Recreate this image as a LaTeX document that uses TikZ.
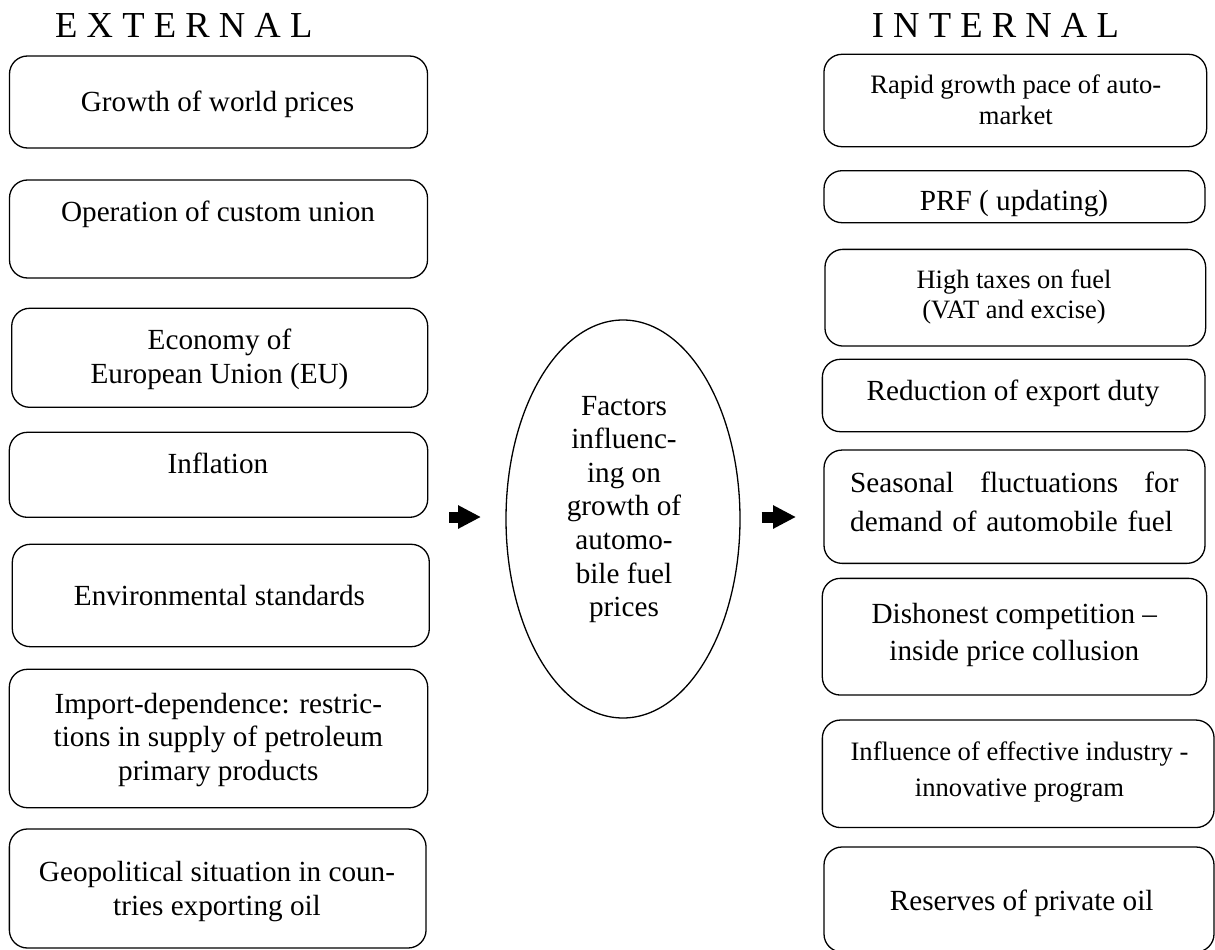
\documentclass[tikz,border=0pt]{standalone}
\usepackage{fontspec}
\setmainfont{Liberation Serif}
\usetikzlibrary{shapes.geometric,arrows.meta}
\begin{document}
\begin{tikzpicture}[x=1pt,y=-1pt,
  box/.style={draw,line width=1.3pt,rounded corners=18pt,inner sep=0pt,outer sep=0pt},
  title/.style={anchor=base west,inner sep=0pt,font=\fontsize{36.6}{42}\selectfont},
  txt/.style={anchor=base,inner sep=0pt,align=center,font=\fontsize{29.2}{33.5}\selectfont},
  stxt/.style={anchor=base,inner sep=0pt,align=center,font=\fontsize{26.6}{30.7}\selectfont},
  blockarrow/.style={line width=11pt,-{Triangle[length=23pt,width=22pt]}}]
\useasboundingbox (0,0) rectangle (1215,950);

% titles
\node[title] (ext) at (55,37.7) {E X T E R N A L};
\node[title] (int) at (871.7,37.7) {I N T E R N A L};

% external boxes
\node[box,minimum width=418pt,minimum height=92pt] (L1) at (218.5,102) {};
\node[box,minimum width=418pt,minimum height=98pt] (L2) at (218.5,229) {};
\node[box,minimum width=416pt,minimum height=99pt] (L3) at (219.7,357.8) {};
\node[box,minimum width=418.4pt,minimum height=85pt] (L4) at (218.5,474.8) {};
\node[box,minimum width=417pt,minimum height=102.4pt] (L5) at (220.8,595.5) {};
\node[box,minimum width=418.4pt,minimum height=138.4pt] (L6) at (218.5,738.5) {};
\node[box,minimum width=416.7pt,minimum height=119pt] (L7) at (217.7,888.5) {};

% multi-line texts: anchor base = baseline of the last line
\node[txt] (L1t) at (217.5,111.7) {Growth of world prices};
\node[txt] (L2t) at (218,221.7) {Operation of custom union};
\node[txt] (L3t) at (219.5,383.3) {Economy of\\European Union (EU)};
\node[txt] (L4t) at (218,473.3) {Inflation};
\node[txt] (L5t) at (219.5,605) {Environmental standards};
\node[txt] (L6t) at (218.3,780) {Import-dependence: restric-\\tions in supply of petroleum\\primary products};
\node[txt,font=\fontsize{29.2}{33.3}\selectfont] (L7t) at (217,915) {Geopolitical situation in coun-\\tries exporting oil};

% centre
\node[ellipse,draw,line width=1.3pt,minimum width=234pt,minimum height=398pt,inner sep=0pt] (C) at (623,519) {};
\node[txt,font=\fontsize{29.2}{33.6}\selectfont] (Ct) at (624,616.7) {Factors\\influenc-\\ing on\\growth of\\automo-\\bile fuel\\prices};

% arrows
\coordinate (a1s) at (449.3,517);
\coordinate (a1e) at (481,517);
\coordinate (a2s) at (761.7,517);
\coordinate (a2e) at (796,517);
\draw[blockarrow] (a1s) -- (a1e);
\draw[blockarrow] (a2s) -- (a2e);

% internal boxes
\node[box,minimum width=382.7pt,minimum height=92.4pt] (R1) at (1015.3,100.5) {};
\node[box,minimum width=381pt,minimum height=52pt] (R2) at (1014.5,196.7) {};
\node[box,minimum width=380.7pt,minimum height=96.7pt] (R3) at (1015.3,297.7) {};
\node[box,minimum width=382.7pt,minimum height=72.4pt] (R4) at (1013.7,395.5) {};
\node[box,minimum width=381pt,minimum height=113.3pt] (R5) at (1014.5,506.7) {};
\node[box,minimum width=384.4pt,minimum height=116.7pt] (R6) at (1014.5,636.7) {};
\node[box,minimum width=391.7pt,minimum height=107.5pt] (R7) at (1018.2,773.8) {};
\node[box,minimum width=390pt,minimum height=105pt] (R8) at (1019,899.5) {};

\node[stxt] (R1t) at (1015.8,124) {Rapid growth pace of auto-\\market};
\node[txt] (R2t) at (1014,210.7) {PRF ( updating)};
\node[stxt,font=\fontsize{26.5}{30}\selectfont] (R3t) at (1014,318.3) {High taxes on fuel\\(VAT and excise)};
\node[txt] (R4t) at (1013,400) {Reduction of export duty};
\node[anchor=base west,inner sep=0pt,text width=328.3pt,align=left,font=\fontsize{29.2}{38.3}\selectfont] (R5t) at (850,492.7) {Seasonal\hfill fluctuations\hfill for\\demand of automobile fuel};
\node[txt,font=\fontsize{29.2}{36.7}\selectfont] (R6t) at (1014.3,660) {Dishonest competition –\\inside price collusion};
\node[stxt,font=\fontsize{26.6}{36}\selectfont] (R7t) at (1019.5,796) {Influence of effective industry -\\innovative program};
\node[txt] (R8t) at (1021.7,910) {Reserves of private oil};
\end{tikzpicture}
\end{document}
